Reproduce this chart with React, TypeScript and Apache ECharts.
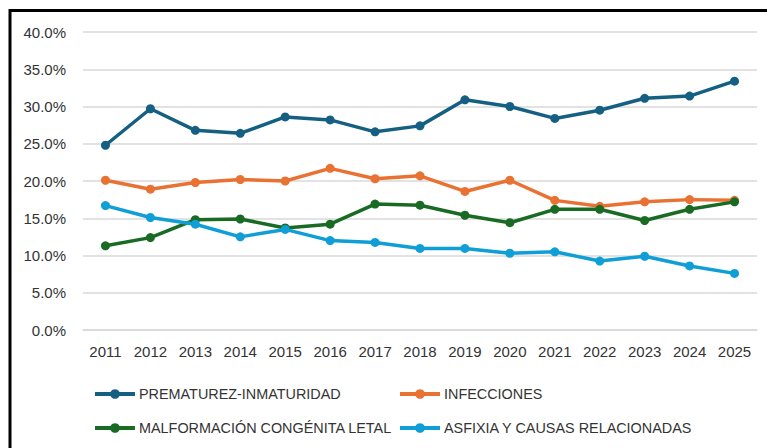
import React, { useEffect, useRef } from "react";
import * as echarts from "echarts";

const years = ["2011","2012","2013","2014","2015","2016","2017","2018","2019","2020","2021","2022","2023","2024","2025"];
const prematurez = [24.8, 29.7, 26.8, 26.4, 28.6, 28.2, 26.6, 27.4, 30.9, 30.0, 28.4, 29.5, 31.1, 31.4, 33.4];
const infecciones = [20.1, 18.9, 19.8, 20.2, 20.0, 21.7, 20.3, 20.7, 18.6, 20.1, 17.4, 16.6, 17.2, 17.5, 17.4];
const malformacion = [11.3, 12.4, 14.8, 14.9, 13.7, 14.2, 16.9, 16.75, 15.4, 14.4, 16.2, 16.2, 14.7, 16.2, 17.2];
const asfixia = [16.7, 15.1, 14.2, 12.5, 13.5, 12.0, 11.75, 10.95, 10.95, 10.3, 10.5, 9.25, 9.9, 8.6, 7.6];
const seriesNames = ["PREMATUREZ-INMATURIDAD", "INFECCIONES", "MALFORMACIÓN CONGÉNITA LETAL", "ASFIXIA Y CAUSAS RELACIONADAS"];
const seriesData = [prematurez, infecciones, malformacion, asfixia];
const colors = ["#156082", "#E97132", "#196B24", "#0F9ED5"];

export default function App() {
  const ref = useRef<HTMLDivElement>(null);
  useEffect(() => {
    document.body.style.margin = "0";
    const chart = echarts.init(ref.current!, null, { renderer: "svg" });
    const font = "'Liberation Sans', Arial, sans-serif";
    const legendPos = [
      { left: 93, top: 387 },
      { left: 398, top: 387 },
      { left: 93, top: 421 },
      { left: 398, top: 421 },
    ];
    chart.setOption({
      animation: false,
      backgroundColor: "#ffffff",
      color: colors,
      grid: { left: 83, right: 10, top: 32, bottom: 118, containLabel: false },
      xAxis: {
        type: "category",
        data: years,
        boundaryGap: true,
        axisLine: { show: true, lineStyle: { color: "#d9d9d9", width: 1.5 } },
        axisTick: { show: false },
        axisLabel: { color: "#333333", fontSize: 15, fontFamily: font, margin: 14 },
      },
      yAxis: {
        type: "value",
        min: 0,
        max: 40,
        interval: 5,
        axisLine: { show: false },
        axisTick: { show: false },
        splitLine: { lineStyle: { color: "#d9d9d9", width: 1.5 } },
        axisLabel: {
          color: "#333333",
          fontSize: 15,
          fontFamily: font,
          margin: 17,
          formatter: (v: number) => v.toFixed(1) + "%",
        },
      },
      legend: seriesNames.map((n, i) => ({
        data: [n],
        left: legendPos[i].left,
        top: legendPos[i].top,
        padding: 0,
        itemWidth: 40,
        itemHeight: 12,
        itemGap: 4,
        lineStyle: { width: 4 },
        textStyle: { color: "#333333", fontSize: 14.4, fontFamily: font, padding: [0, 0, 0, -1] },
      })),
      graphic: [
        {
          type: "rect",
          shape: { x: 10, y: 10.5, width: 800, height: 500 },
          style: { fill: "none", stroke: "#000000", lineWidth: 3 },
          silent: true,
        },
      ],
      series: seriesNames.map((n, i) => ({
        name: n,
        type: "line",
        data: seriesData[i],
        symbol: "circle",
        symbolSize: 9,
        lineStyle: { width: 3.5, color: colors[i] },
        itemStyle: { color: colors[i] },
      })),
    });
    return () => chart.dispose();
  }, []);
  return <div ref={ref} style={{ position: "fixed", left: 0, top: 0, width: 767, height: 448 }} />;
}
